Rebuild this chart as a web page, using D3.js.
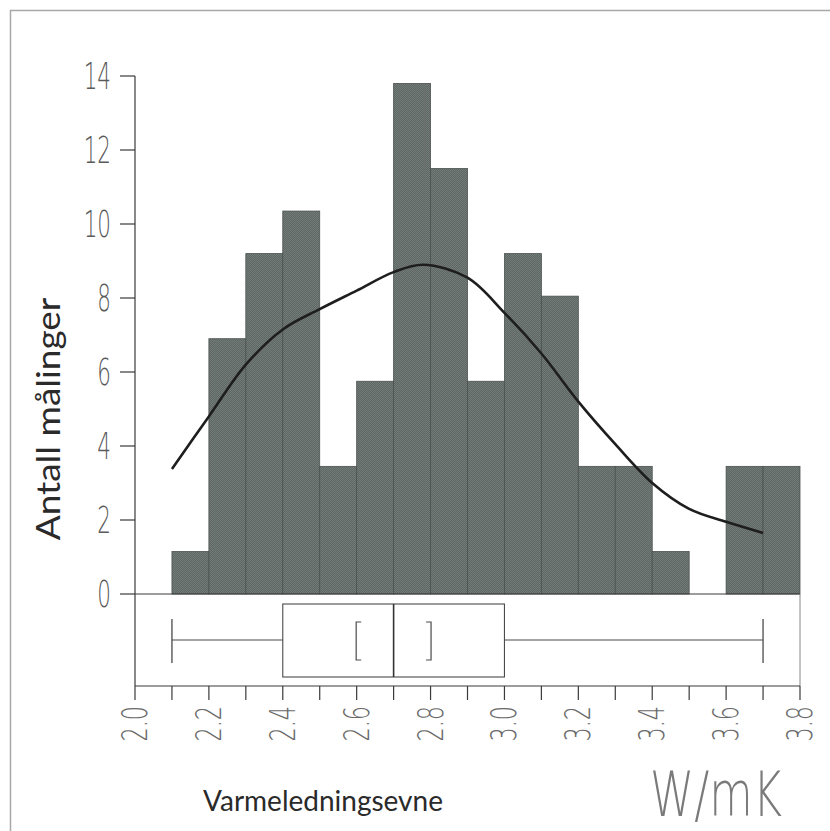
<!DOCTYPE html>
<html>
<head>
<meta charset="utf-8">
<script src="https://cdn.jsdelivr.net/npm/d3@7"></script>
<style>
  body { margin: 0; background: #fff; }
  svg { display: block; }
</style>
</head>
<body>
<div id="chart"></div>
<script>
// histogram bins (start of each 0.1 wide bin) and bar heights
const binStarts = [2.1, 2.2, 2.3, 2.4, 2.5, 2.6, 2.7, 2.8, 2.9, 3.0, 3.1, 3.2, 3.3, 3.4, 3.5, 3.6, 3.7];
const counts = [1.15, 6.9, 9.2, 10.35, 3.45, 5.75, 13.8, 11.5, 5.75, 9.2, 8.05, 3.45, 3.45, 1.15, 0, 3.45, 3.45];

// smooth density curve
const curveX = [2.1, 2.2, 2.3, 2.4, 2.5, 2.6, 2.7, 2.78, 2.9, 3.0, 3.1, 3.2, 3.3, 3.4, 3.5, 3.6, 3.7];
const curveY = [3.38, 4.8, 6.2, 7.15, 7.7, 8.2, 8.7, 8.9, 8.55, 7.6, 6.5, 5.2, 4.05, 3.0, 2.3, 1.95, 1.65];

// box plot summary
const boxStats = { min: 2.1, q1: 2.4, median: 2.7, q3: 3.0, max: 3.7, ciLow: 2.6, ciHigh: 2.8 };

const yTicks = [0, 2, 4, 6, 8, 10, 12, 14];
const xTickLabels = ["2.0", "2.2", "2.4", "2.6", "2.8", "3.0", "3.2", "3.4", "3.6", "3.8"];

const svg = d3.select("#chart").append("svg")
    .attr("width", 830)
    .attr("height", 831);

const defs = svg.append("defs");
const pat = defs.append("pattern")
    .attr("id", "dither")
    .attr("width", 2).attr("height", 2)
    .attr("patternUnits", "userSpaceOnUse");
pat.append("rect").attr("width", 2).attr("height", 2).attr("fill", "#5f6765");
pat.append("rect").attr("width", 1).attr("height", 1).attr("fill", "#737b79");
pat.append("rect").attr("x", 1).attr("y", 1).attr("width", 1).attr("height", 1).attr("fill", "#737b79");

// outer frame
svg.append("rect")
    .attr("x", 10.5).attr("y", 10.5)
    .attr("width", 830).attr("height", 830)
    .attr("fill", "none")
    .attr("stroke", "#a8a8a8")
    .attr("stroke-width", 1.5);

const x = d3.scaleLinear().domain([2.0, 3.8]).range([135, 800]);
const y = d3.scaleLinear().domain([0, 14]).range([594, 76]);

const axisY0 = 686; // x axis line below the box plot
const ink = "#3a3a3a";

// bars
svg.selectAll(".bar")
    .data(binStarts.map((s, i) => ({ s, v: counts[i] })).filter(d => d.v > 0))
    .enter().append("rect")
    .attr("class", "bar")
    .attr("x", d => x(d.s))
    .attr("y", d => y(d.v))
    .attr("width", d => x(d.s + 0.1) - x(d.s))
    .attr("height", d => y(0) - y(d.v))
    .attr("fill", "url(#dither)")
    .attr("stroke", "#4a5250")
    .attr("stroke-width", 0.8);

// density curve
const line = d3.line()
    .x((d, i) => x(curveX[i]))
    .y((d, i) => y(curveY[i]))
    .curve(d3.curveCatmullRom.alpha(0.5));

svg.append("path")
    .attr("d", line(curveY))
    .attr("fill", "none")
    .attr("stroke", "#1e1e1e")
    .attr("stroke-width", 2.6);

// y axis
svg.append("line")
    .attr("x1", 135).attr("x2", 135)
    .attr("y1", y(14)).attr("y2", axisY0)
    .attr("stroke", ink).attr("stroke-width", 1.2);

const yg = svg.append("g");
yg.selectAll("line")
    .data(yTicks)
    .enter().append("line")
    .attr("x1", 120).attr("x2", 135)
    .attr("y1", d => y(d)).attr("y2", d => y(d))
    .attr("stroke", ink).attr("stroke-width", 1.2);

yg.selectAll("text")
    .data(yTicks)
    .enter().append("text")
    .attr("transform", d => `translate(111,${y(d) + 13}) scale(0.58,1)`)
    .attr("text-anchor", "end")
    .style("font-family", "DejaVu Sans")
    .style("font-weight", "200")
    .style("font-size", "37px")
    .attr("fill", "#5a5a5a")
    .text(d => d);

// box plot panel: baseline and right border
svg.append("line")
    .attr("x1", 135).attr("x2", 800)
    .attr("y1", y(0)).attr("y2", y(0))
    .attr("stroke", ink).attr("stroke-width", 1);
svg.append("line")
    .attr("x1", 800).attr("x2", 800)
    .attr("y1", y(0)).attr("y2", axisY0)
    .attr("stroke", "#888").attr("stroke-width", 1);

// x axis
svg.append("line")
    .attr("x1", 135).attr("x2", 800)
    .attr("y1", axisY0).attr("y2", axisY0)
    .attr("stroke", ink).attr("stroke-width", 1.2);

const xTicks = d3.range(0, 19).map(i => 2.0 + i * 0.1);
svg.selectAll(".xtick")
    .data(xTicks)
    .enter().append("line")
    .attr("x1", d => x(d)).attr("x2", d => x(d))
    .attr("y1", axisY0).attr("y2", axisY0 + 14)
    .attr("stroke", ink).attr("stroke-width", 1.2);

svg.selectAll(".xlabel")
    .data(xTickLabels)
    .enter().append("text")
    .attr("transform", d => `translate(${x(+d) + 12},${706}) rotate(-90) scale(0.62,1)`)
    .attr("text-anchor", "end")
    .style("font-family", "DejaVu Sans")
    .style("font-weight", "200")
    .style("font-size", "36px")
    .attr("fill", "#6a6a6a")
    .text(d => d);

// box plot
const bTop = 604, bBot = 677, bMid = 640;
const boxStroke = "#4a4a4a";
svg.append("rect")
    .attr("x", x(boxStats.q1)).attr("y", bTop)
    .attr("width", x(boxStats.q3) - x(boxStats.q1))
    .attr("height", bBot - bTop)
    .attr("fill", "none")
    .attr("stroke", boxStroke).attr("stroke-width", 1.1);
svg.append("line")
    .attr("x1", x(boxStats.median)).attr("x2", x(boxStats.median))
    .attr("y1", bTop).attr("y2", bBot)
    .attr("stroke", "#333").attr("stroke-width", 1.6);
[[boxStats.min, boxStats.q1], [boxStats.q3, boxStats.max]].forEach(([a, b]) => {
    svg.append("line")
        .attr("x1", x(a)).attr("x2", x(b))
        .attr("y1", bMid).attr("y2", bMid)
        .attr("stroke", boxStroke).attr("stroke-width", 1.1);
});
[boxStats.min, boxStats.max].forEach(v => {
    svg.append("line")
        .attr("x1", x(v)).attr("x2", x(v))
        .attr("y1", 619).attr("y2", 663)
        .attr("stroke", boxStroke).attr("stroke-width", 1.3);
});
// median confidence brackets
[[boxStats.ciLow, 1], [boxStats.ciHigh, -1]].forEach(([v, dir]) => {
    const bx = x(v) - dir * 0.5;
    svg.append("path")
        .attr("d", `M${bx + dir * 5},622 H${bx} V660 H${bx + dir * 5}`)
        .attr("fill", "none")
        .attr("stroke", boxStroke).attr("stroke-width", 1.2);
});

// axis titles
svg.append("text")
    .attr("transform", "translate(60,419) rotate(-90) scale(1.12,1)")
    .attr("text-anchor", "middle")
    .style("font-family", "Lato")
    .style("font-size", "33px")
    .attr("fill", "#2a2a2a")
    .text("Antall målinger");

svg.append("text")
    .attr("x", 323).attr("y", 811)
    .attr("text-anchor", "middle")
    .style("font-family", "Lato")
    .style("font-size", "28px")
    .attr("fill", "#2a2a2a")
    .text("Varmeledningsevne");

svg.append("text")
    .attr("transform", "translate(716,816) scale(0.72,1)")
    .attr("text-anchor", "middle")
    .style("font-family", "DejaVu Sans")
    .style("font-weight", "200")
    .style("font-size", "62px")
    .attr("fill", "#7a7a7a")
    .text("W/mK");
</script>
</body>
</html>
